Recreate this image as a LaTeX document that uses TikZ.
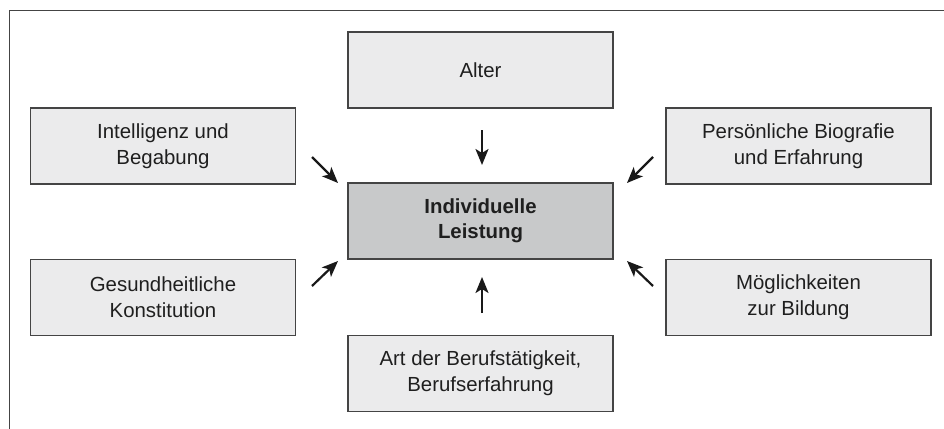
\documentclass[tikz,border=0pt]{standalone}
\usepackage{fontspec}
\setmainfont{Liberation Sans}
\usetikzlibrary{arrows.meta}
\definecolor{boxgrau}{RGB}{235,235,236}
\definecolor{kerngrau}{RGB}{200,201,202}
\definecolor{randgrau}{RGB}{68,68,68}
\begin{document}
\begin{tikzpicture}[x=0.5pt,y=-0.5pt,
        faktor/.style={draw=randgrau,line width=0.6pt,fill=boxgrau,minimum width=132.5pt,minimum height=38pt,inner sep=0pt,align=center,font=\fontsize{10.2}{13}\selectfont,text=black!88},
        kern/.style={faktor,fill=kerngrau,font=\fontsize{10.2}{12.5}\selectfont\bfseries},
        pfeil/.style={line width=1.1pt,-{Stealth[length=8pt,width=6.5pt,inset=2pt]},black!90}]
        \useasboundingbox (0,0) rectangle (944,429);
        \draw[randgrau,line width=0.5pt] (9,429) -- (9,10) -- (944,10);
        % Kaesten
        \node[faktor] (alter) at (480.5,70) {Alter};
        \node[faktor] (intel) at (163,146) {Intelligenz und\\Begabung};
        \node[faktor] (bio) at (798.5,146) {Persönliche Biografie\\und Erfahrung};
        \node[kern] (leistung) at (480.5,221) {Individuelle\\Leistung};
        \node[faktor] (gesund) at (163,297.5) {Gesundheitliche\\Konstitution};
        \node[faktor] (bildung) at (798.5,297.5) {Möglichkeiten\\zur Bildung};
        \node[faktor] (beruf) at (480.5,373.5) {Art der Berufstätigkeit,\\Berufserfahrung};
        % Pfeile
        \coordinate (p1a) at (482,130); \coordinate (p1b) at (482,165);
        \coordinate (p2a) at (312,157); \coordinate (p2b) at (338,183);
        \coordinate (p3a) at (653,157); \coordinate (p3b) at (627,183);
        \coordinate (p4a) at (312,286); \coordinate (p4b) at (338,261);
        \coordinate (p5a) at (653,286); \coordinate (p5b) at (627,261);
        \coordinate (p6a) at (482,313); \coordinate (p6b) at (482,277);
        \foreach \i in {1,...,6}
            \draw[pfeil] (p\i a) -- (p\i b);
    \end{tikzpicture}
\end{document}
